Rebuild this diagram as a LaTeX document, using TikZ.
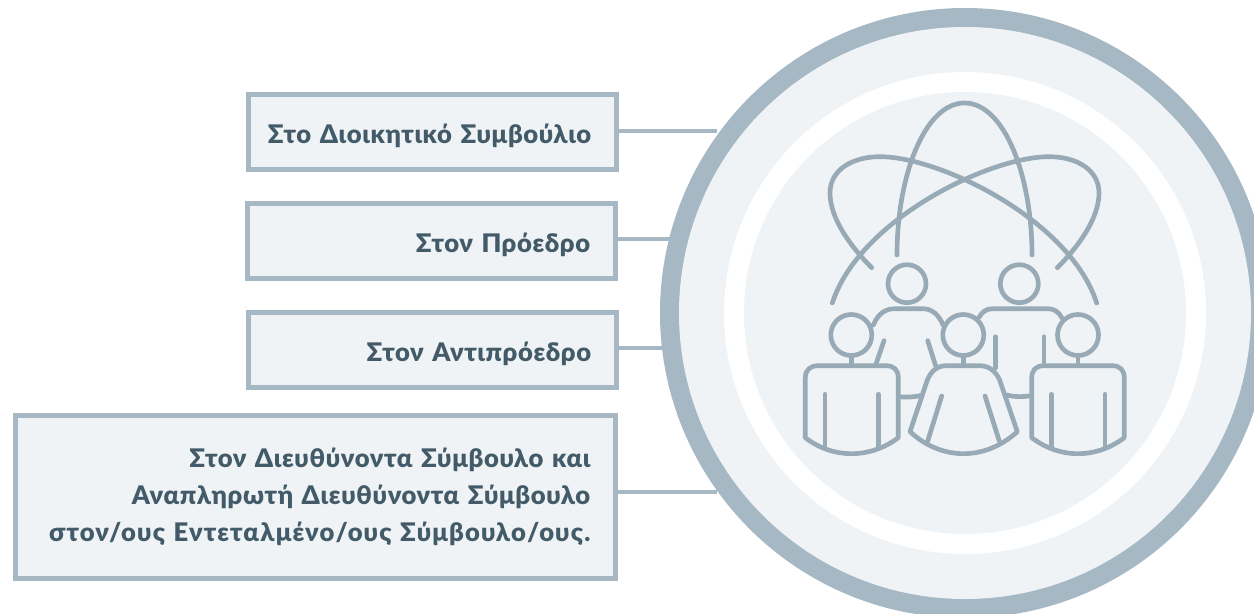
\documentclass[tikz,border=0pt]{standalone}
\usepackage{fontspec}
\setmainfont{Lato}[BoldFont={Lato Black},LetterSpace=2.5]
\usetikzlibrary{calc}
\definecolor{ringc}{HTML}{A5B8C3}
\definecolor{iconc}{HTML}{97AAB6}
\definecolor{lightc}{HTML}{EFF3F6}
\definecolor{textc}{HTML}{435B69}
\tikzset{
  px/.style={x=0.75pt,y=-0.75pt},
  labelbox/.style={draw=ringc,fill=lightc,line width=3.75pt,rectangle,inner xsep=19.1pt,inner ysep=0pt,
    align=right,text=textc,font=\fontsize{19.2}{27.75}\selectfont\bfseries,anchor=center},
  oneline/.style={text height=18.5pt,text depth=2pt,text width=238pt,minimum width=276pt,minimum height=56.25pt},
  link/.style={draw=ringc,line width=3.5pt},
  ico/.style={draw=iconc,line width=3.5pt,line cap=round,line join=round}
}
\begin{document}
\begin{tikzpicture}[px]
\useasboundingbox (0,0) rectangle (1254,614);
\fill[white] (0,0) rectangle (1254,614);
\coordinate (c1) at (717,131);
\coordinate (c2) at (672,239);
\coordinate (c3) at (666,348);
\coordinate (c4) at (717,492);
\begin{scope}
\clip (0,0) rectangle (1254,614);
\fill[ringc] (965,313) circle[radius=305];
\fill[lightc] (965,313) circle[radius=286];
\fill[white] (965,313) circle[radius=241];
\fill[lightc] (965,313) circle[radius=221];
\end{scope}
\node[labelbox,oneline] (b1) at (432.5,132) {\llap{Στο Διοικητικό Συμβούλιο}};
\node[labelbox,oneline] (b2) at (431.5,241) {Στον Πρόεδρο};
\node[labelbox,oneline] (b3) at (432.5,350) {Στον Αντιπρόεδρο};
\node[labelbox,text width=412pt,minimum width=450pt,minimum height=122.5pt] (b4) at (315.5,497) {Στον Διευθύνοντα Σύμβουλο και\\Αναπληρωτή Διευθύνοντα Σύμβουλο\\{\addfontfeature{LetterSpace=4.4}στον/ους Εντεταλμένο/ους Σύμβουλο/ους.}};
\draw[link] (b1.east |- c1) -- (c1);
\draw[link] (b2.east |- c2) -- (c2);
\draw[link] (b3.east |- c3) -- (c3);
\draw[link] (b4.east |- c4) -- (c4);
% orbits
\draw[ico] (897,255) .. controls (897,175) and (925,103) .. (964.5,103) .. controls (1004,103) and (1032,175) .. (1032,255);
\draw[ico] (871.7,267.7) .. controls (850,246) and (830,218) .. (830,193) .. controls (830,170) and (852,156.7) .. (880,156.7) .. controls (940,156.7) and (1070,220) .. (1096.7,303);
\draw[ico] (1057.3,267.7) .. controls (1079,246) and (1099,218) .. (1099,193) .. controls (1099,170) and (1077,156.7) .. (1049,156.7) .. controls (989,156.7) and (859,220) .. (832.3,303);
% heads
\draw[ico] (907,283.7) circle[radius=19];
\draw[ico] (1019.3,283.7) circle[radius=19];
\draw[ico] (851.3,335) circle[radius=20.5];
\draw[ico] (963.3,335) circle[radius=20.5];
\draw[ico] (1078,335) circle[radius=20.5];
% back shoulders
\draw[ico] (873.3,325) .. controls (878,314) and (885,308.7) .. (895,308.7) -- (923,308.7) .. controls (932,308.7) and (939,315) .. (943,325);
\draw[ico] (979,317.5) .. controls (982,312) and (986,308.7) .. (993,308.7) -- (1048,308.7) .. controls (1054,308.7) and (1059,312) .. (1062,318);
\draw[ico] (884,340.7) -- (876,364);
\draw[ico] (927.7,340.7) -- (935.7,366);
\draw[ico] (995.3,336.7) -- (995.3,368);
\draw[ico] (1044,336.7) -- (1044,365);
\draw[ico] (899,396.7) .. controls (906,397.5) and (914,397) .. (920,395.7);
\draw[ico] (1007,395) .. controls (1014,397) and (1023,397) .. (1031,395.7);
% necks
\draw[ico,line cap=butt] (851.3,356) -- (851.3,365.7);
\draw[ico,line cap=butt] (963.3,356) -- (963.3,365.7);
\draw[ico,line cap=butt] (1078,356) -- (1078,365.7);
% front bodies
\draw[ico] (805.3,437.7) -- (805.3,378) .. controls (805.3,370) and (810,365.7) .. (818,365.7) -- (886,365.7) .. controls (894,365.7) and (898.3,370) .. (898.3,378) -- (898.3,437.7) .. controls (870,459) and (833,459) .. (805.3,437.7) -- cycle;
\draw[ico] (1031.7,437.7) -- (1031.7,378) .. controls (1031.7,370) and (1036,365.7) .. (1044,365.7) -- (1112,365.7) .. controls (1120,365.7) and (1124.3,370) .. (1124.3,378) -- (1124.3,437.7) .. controls (1096,459) and (1060,459) .. (1031.7,437.7) -- cycle;
\draw[ico] (825,394.3) -- (825,446.5);
\draw[ico] (878.3,394.3) -- (878.3,447);
\draw[ico] (1051.3,394.3) -- (1051.3,446.5);
\draw[ico] (1105,394.3) -- (1105,447);
\draw[ico] (910,431.7) -- (926,384) .. controls (929,373) and (936,365.7) .. (946,365.7) -- (980,365.7) .. controls (990,365.7) and (998,373) .. (1001,384) -- (1017.3,431.7) .. controls (985,461) and (942,461) .. (910,431.7) -- cycle;
\draw[ico] (941.7,396) -- (927.7,441);
\draw[ico] (985,396) -- (999.3,441);
\end{tikzpicture}
\end{document}
